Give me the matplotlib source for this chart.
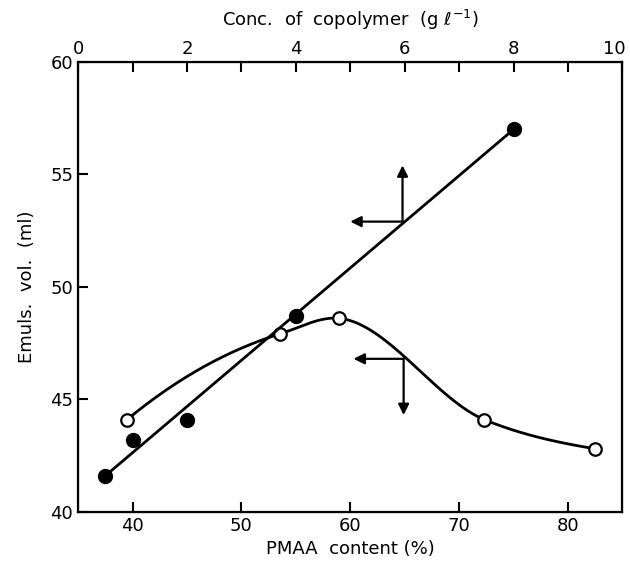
import numpy as np
import matplotlib
matplotlib.use('Agg')
import matplotlib.pyplot as plt
import matplotlib.transforms as mtransforms

# filled points: emulsion volume vs copolymer concentration (top axis)
conc = [0.5, 1.0, 2.0, 4.0, 8.0]
vol_conc = [41.6, 43.2, 44.1, 48.7, 57.0]

# open points: emulsion volume vs PMAA content (bottom axis)
pmaa = [39.5, 53.5, 59.0, 72.3, 82.5]
vol_pmaa = [44.1, 47.9, 48.6, 44.1, 42.8]
# slopes used for the hand-drawn looking smooth curve at each open point
curve_slopes = [0.4, 0.15, -0.05, -0.2, -0.08]

# arrows telling which axis each curve belongs to: (x, y, dx, dy) in PMAA units
arrow_up = [(64.8, 52.9, -4.8, 0.0), (64.8, 52.9, 0.0, 2.5)]
arrow_down = [(64.9, 46.8, -4.6, 0.0), (64.9, 46.8, 0.0, -2.5)]


def hermite(x, y, d, n=80):
    xs, ys = [], []
    for i in range(len(x) - 1):
        h = x[i + 1] - x[i]
        t = np.linspace(0, 1, n)
        h00 = 2 * t**3 - 3 * t**2 + 1
        h10 = t**3 - 2 * t**2 + t
        h01 = -2 * t**3 + 3 * t**2
        h11 = t**3 - t**2
        xs.append(x[i] + t * h)
        ys.append(h00 * y[i] + h10 * h * d[i] + h01 * y[i + 1] + h11 * h * d[i + 1])
    return np.concatenate(xs), np.concatenate(ys)


plt.rcParams['font.family'] = ['DejaVu Sans']
fig = plt.figure(figsize=(6.3, 5.68), dpi=100)
ax = fig.add_axes([0.124, 0.099, 0.864, 0.792])

ax.set_xlim(35, 85)
ax.set_ylim(40, 60)
ax.set_xticks([40, 50, 60, 70, 80])
ax.set_yticks([40, 45, 50, 55, 60])
ax.tick_params(direction='in', length=7, width=1.5, labelsize=13, top=False, right=False)
for s in ax.spines.values():
    s.set_linewidth(1.6)

# smooth curve through the open points
cx, cy = hermite(pmaa, vol_pmaa, curve_slopes)
ax.plot(cx, cy, color='black', lw=2)
ax.plot(pmaa, vol_pmaa, 'o', ms=9, mfc='white', mec='black', mew=1.6, zorder=5)

ax2 = ax.twiny()
ax2.set_xlim(0, 10)
ax2.set_xticks(range(0, 11))
ax2.set_xticklabels([str(v) if v % 2 == 0 else '' for v in range(0, 11)])
ax2.tick_params(direction='in', length=7, width=1.5, labelsize=13, pad=3)
last = ax2.get_xticklabels()[-1]
last.set_transform(last.get_transform() + mtransforms.ScaledTranslation(-6 / 72, 0, fig.dpi_scale_trans))

# straight line through the filled points' ends
ax2.plot([conc[0], conc[-1]], [vol_conc[0], vol_conc[-1]], color='black', lw=2)
ax2.plot(conc, vol_conc, 'o', ms=10, color='black', zorder=5)

for x, y, dx, dy in arrow_up + arrow_down:
    ax.annotate('', xy=(x + dx, y + dy), xytext=(x, y),
                arrowprops=dict(arrowstyle='-|>', color='black', lw=1.6,
                                mutation_scale=16, shrinkA=0, shrinkB=0))

ax.set_xlabel('PMAA  content (%)', fontsize=13, labelpad=4)
ax.set_ylabel('Emuls.  vol.  (ml)', fontsize=13, labelpad=10)
ax2.set_xlabel(r'Conc.  of  copolymer  (g $\ell^{-1}$)', fontsize=13, labelpad=10)

fig.savefig('out.png', dpi=100)
